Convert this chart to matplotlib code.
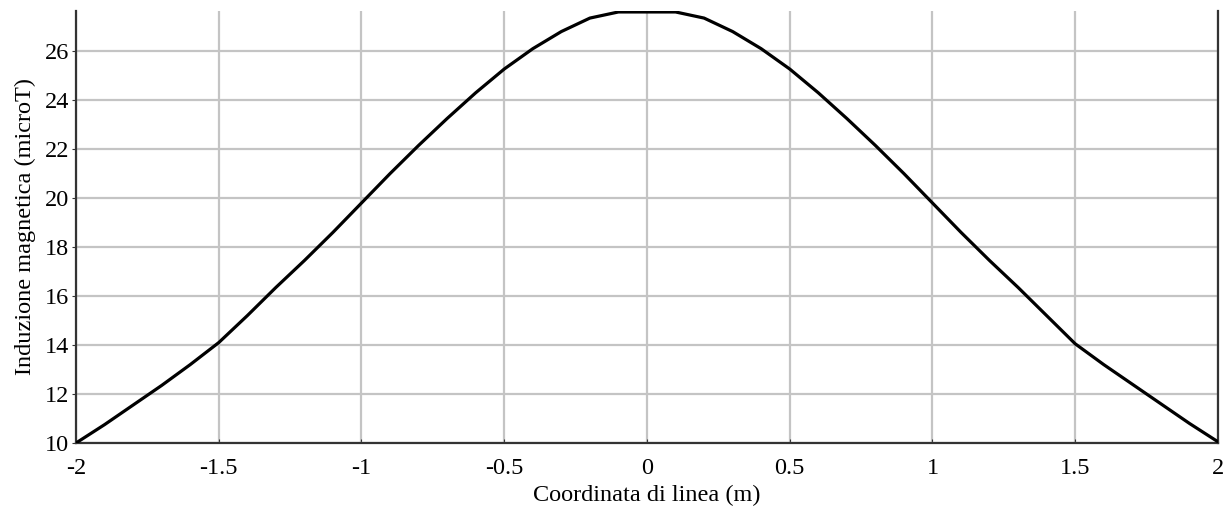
import numpy as np
import matplotlib
matplotlib.use("Agg")
import matplotlib.pyplot as plt

# valori (simmetrici)
x_coord = [-2.0, -1.9, -1.8, -1.7, -1.6, -1.5, -1.4, -1.3, -1.2, -1.1, -1.0,
           -0.9, -0.8, -0.7, -0.6, -0.5, -0.4, -0.3, -0.2, -0.1, 0.0,
           0.1, 0.2, 0.3, 0.4, 0.5, 0.6, 0.7, 0.8, 0.9, 1.0,
           1.1, 1.2, 1.3, 1.4, 1.5, 1.6, 1.7, 1.8, 1.9, 2.0]
induzione = [10.0, 10.75, 11.55, 12.35, 13.2, 14.1, 15.2, 16.35, 17.45, 18.6, 19.8,
             21.0, 22.15, 23.25, 24.3, 25.27, 26.1, 26.8, 27.35, 27.6, 27.6,
             27.6, 27.35, 26.8, 26.1, 25.27, 24.3, 23.25, 22.15, 21.0, 19.8,
             18.6, 17.45, 16.35, 15.2, 14.05, 13.2, 12.4, 11.6, 10.8, 10.05]

xticks = [-2, -1.5, -1, -0.5, 0, 0.5, 1, 1.5, 2]
xtick_labels = ["-2", "-1.5", "-1", "-0.5", "0", "0.5", "1", "1.5", "2"]
yticks = [10, 12, 14, 16, 18, 20, 22, 24, 26]

plt.rcParams['font.family'] = ['Liberation Serif', 'DejaVu Serif']

fig = plt.figure(figsize=(12.32, 5.18), dpi=100)
ax = fig.add_axes([0.0617, 0.1448, 0.9269, 0.834])

ax.plot(x_coord, induzione, color='black', linewidth=2.3, zorder=3)

ax.set_xlim(-2, 2)
ax.set_ylim(10, 27.64)
ax.set_xticks(xticks)
ax.set_xticklabels(xtick_labels)
ax.set_yticks(yticks)
ax.grid(True, color='#c4c4c4', linewidth=1.6)
ax.set_axisbelow(True)

ax.spines['top'].set_visible(False)
for s in ['left', 'bottom', 'right']:
    ax.spines[s].set_color('#333333')
    ax.spines[s].set_linewidth(1.6)

ax.tick_params(axis='x', direction='in', length=3, colors='#333333', labelcolor='black',
               labelsize=17.5, pad=11)
ax.tick_params(axis='y', direction='out', length=3, colors='#333333', labelcolor='black',
               labelsize=17.5, pad=2)

ax.set_xlabel("Coordinata di linea (m)", fontsize=17.5, labelpad=4)
ax.set_ylabel("Induzione magnetica (microT)", fontsize=17.5, labelpad=6)

fig.savefig("out.png", dpi=100)
